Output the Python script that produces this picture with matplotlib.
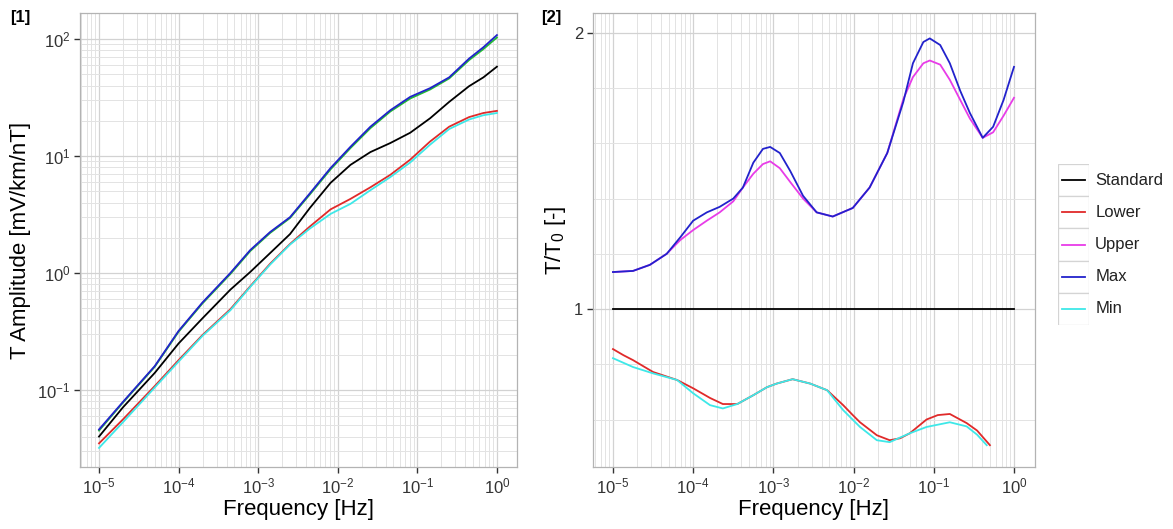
import numpy as np
import matplotlib.pyplot as plt
from matplotlib.ticker import LogLocator, FixedLocator, NullFormatter, LogFormatterSciNotation
from matplotlib.patches import Rectangle

plt.rcParams['font.family'] = ['Liberation Sans', 'DejaVu Sans']
plt.rcParams['mathtext.default'] = 'regular'
plt.rcParams['axes.unicode_minus'] = False

# ---- panel [1]: transfer amplitude (log10 of frequency in Hz) ----
logf_left = [-5, -4.7, -4.3, -4.0, -3.7, -3.35, -3.1, -2.85, -2.6, -2.35, -2.09, -1.84,
             -1.59, -1.34, -1.09, -0.84, -0.6, -0.35, -0.17, 0]
amp_standard = [0.040, 0.071, 0.14, 0.25, 0.41, 0.72, 1.02, 1.48, 2.15, 3.6, 5.9, 8.4,
                10.8, 12.9, 15.8, 21, 29, 39.5, 47, 58]
amp_lower = [0.035, 0.056, 0.108, 0.18, 0.295, 0.49, 0.77, 1.2, 1.77, 2.5, 3.5, 4.3,
             5.4, 6.9, 9.3, 13.3, 17.8, 21.5, 23.3, 24.3]
amp_upper = [0.045, 0.078, 0.158, 0.315, 0.55, 0.98, 1.54, 2.2, 2.95, 4.7, 7.7, 11.7,
             17.3, 24, 31, 37, 46, 66, 82, 103]
amp_max = [0.046, 0.079, 0.16, 0.32, 0.56, 1.0, 1.57, 2.24, 3.0, 4.8, 7.9, 12,
           17.8, 24.6, 32, 38, 47, 68, 85, 108]
amp_min = [0.032, 0.053, 0.105, 0.175, 0.29, 0.48, 0.76, 1.18, 1.75, 2.4, 3.2, 3.9,
           5.1, 6.6, 8.8, 12.5, 17, 20.5, 22.3, 23.3]

# ---- panel [2]: ratio to standard ----
logf_std = [-5, 0]
ratio_std = [1.0, 1.0]

logf_up = [-5.0, -4.75, -4.54, -4.33, -4.16, -4.0, -3.83, -3.67, -3.50, -3.38, -3.25, -3.13, -3.04,
           -2.92, -2.79, -2.63, -2.46, -2.26, -2.01, -1.80, -1.58, -1.38, -1.26, -1.13, -1.05,
           -0.92, -0.80, -0.67, -0.55, -0.39, -0.26, -0.13, 0.0]
ratio_max = [1.134, 1.138, 1.16, 1.20, 1.26, 1.32, 1.35, 1.37, 1.40, 1.44, 1.53, 1.58, 1.587,
             1.565, 1.50, 1.41, 1.35, 1.335, 1.366, 1.44, 1.565, 1.75, 1.89, 1.967, 1.98,
             1.956, 1.89, 1.79, 1.71, 1.62, 1.66, 1.757, 1.877]
ratio_upper = [1.134, 1.138, 1.16, 1.20, 1.25, 1.286, 1.32, 1.35, 1.39, 1.44, 1.49, 1.525, 1.535,
               1.51, 1.46, 1.40, 1.35, 1.335, 1.366, 1.44, 1.565, 1.76, 1.84, 1.89, 1.90,
               1.885, 1.83, 1.757, 1.69, 1.62, 1.64, 1.70, 1.765]

logf_lo = [-5.0, -4.87, -4.75, -4.5, -4.2, -4.0, -3.79, -3.63, -3.45, -3.25, -3.08, -2.96, -2.76,
           -2.54, -2.33, -2.13, -2.01, -1.92, -1.71, -1.55, -1.42, -1.30, -1.09, -0.95, -0.80,
           -0.59, -0.46, -0.30]
ratio_lower = [0.855, 0.833, 0.815, 0.772, 0.743, 0.713, 0.678, 0.656, 0.656, 0.688, 0.717, 0.73, 0.746,
               0.73, 0.706, 0.652, 0.616, 0.59, 0.543, 0.525, 0.532, 0.55, 0.60, 0.616, 0.62,
               0.587, 0.56, 0.507]
logf_mn = [-5.0, -4.75, -4.5, -4.2, -4.0, -3.79, -3.63, -3.45, -3.25, -3.08, -2.96, -2.76,
           -2.54, -2.33, -2.13, -1.92, -1.71, -1.55, -1.30, -1.09, -0.80, -0.59, -0.46, -0.34]
ratio_min = [0.822, 0.79, 0.767, 0.743, 0.695, 0.652, 0.64, 0.656, 0.688, 0.717, 0.73, 0.746,
             0.73, 0.706, 0.634, 0.573, 0.525, 0.518, 0.55, 0.573, 0.59, 0.575, 0.545, 0.507]

names = ['Standard', 'Lower', 'Upper', 'Max', 'Min']
colors = ['black', '#e02a2a', '#e83ce8', '#2222cc', '#3ee8e8']
green = '#22bb33'


def hz(logf):
    return 10.0 ** np.asarray(logf, dtype=float)


W, H = 1173, 529
fig = plt.figure(figsize=(W / 100, H / 100), dpi=100)


def style(ax):
    ax.set_facecolor('white')
    for s in ax.spines.values():
        s.set_color('#b3b3b3')
        s.set_linewidth(0.9)
    ax.grid(which='major', color='#d2d2d2', linewidth=0.9)
    ax.grid(which='minor', color='#e3e3e3', linewidth=0.7)
    ax.set_axisbelow(True)
    ax.tick_params(which='major', direction='out', length=4, width=1, color='#333333',
                   labelsize=12, labelcolor='#333333', pad=3)
    ax.tick_params(which='minor', length=0)


ax1 = fig.add_axes([80 / W, 1 - 467 / H, 437 / W, 454 / H])
f1 = hz(logf_left)
ax1.plot(f1, amp_standard, color=colors[0], lw=1.3)
ax1.plot(f1, amp_lower, color=colors[1], lw=1.3)
ax1.plot(f1, amp_upper, color=green, lw=1.3)
ax1.plot(f1, amp_max, color=colors[3], lw=1.3)
ax1.plot(f1, amp_min, color=colors[4], lw=1.3)
ax1.set_xscale('log')
ax1.set_yscale('log')
ax1.set_xlim(10 ** -5.239, 10 ** 0.252)
ax1.set_ylim(10 ** -1.658, 10 ** 2.222)
for axis in (ax1.xaxis, ax1.yaxis):
    axis.set_major_locator(LogLocator(base=10, numticks=20))
    axis.set_minor_locator(LogLocator(base=10, subs=np.arange(2, 10), numticks=20))
    axis.set_major_formatter(LogFormatterSciNotation())
    axis.set_minor_formatter(NullFormatter())
style(ax1)
ax1.set_xlabel('Frequency [Hz]', fontsize=16, labelpad=2)
ax1.set_ylabel('T Amplitude [mV/km/nT]', fontsize=16, labelpad=4)

ax2 = fig.add_axes([593 / W, 1 - 467 / H, 442 / W, 454 / H])
ax2.plot(hz(logf_std), ratio_std, color=colors[0], lw=1.3)
ax2.plot(hz(logf_lo), ratio_lower, color=colors[1], lw=1.3)
ax2.plot(hz(logf_up), ratio_upper, color=colors[2], lw=1.3)
ax2.plot(hz(logf_up), ratio_max, color=colors[3], lw=1.3)
ax2.plot(hz(logf_mn), ratio_min, color=colors[4], lw=1.3)
ax2.set_xscale('log')
ax2.set_xlim(10 ** -5.249, 10 ** 0.262)
ax2.set_ylim(0.428, 2.072)
ax2.xaxis.set_major_locator(LogLocator(base=10, numticks=20))
ax2.xaxis.set_minor_locator(LogLocator(base=10, subs=np.arange(2, 10), numticks=20))
ax2.xaxis.set_major_formatter(LogFormatterSciNotation())
ax2.xaxis.set_minor_formatter(NullFormatter())
ax2.yaxis.set_major_locator(FixedLocator([1, 2]))
ax2.yaxis.set_minor_locator(FixedLocator([0.6, 0.8, 1.2, 1.4, 1.6, 1.8]))
ax2.set_yticklabels(['1', '2'])
style(ax2)
ax2.set_xlabel('Frequency [Hz]', fontsize=16, labelpad=2)
ax2.set_ylabel('T/T$_0$ [-]', fontsize=16, labelpad=4)

fig.text(10 / W, 1 - 22 / H, '[1]', fontsize=12, fontweight='bold')
fig.text(541 / W, 1 - 22 / H, '[2]', fontsize=12, fontweight='bold')

# legend with ggplot-like key boxes
axl = fig.add_axes([1058 / W, 1 - 325 / H, 31 / W, 161 / H])
axl.set_xlim(0, 1)
axl.set_ylim(0, 5)
axl.axis('off')
for i, (nm, c) in enumerate(zip(names, colors)):
    y0 = 4 - i
    axl.add_patch(Rectangle((0, y0), 1, 1, facecolor='white', edgecolor='#d4d4d4', lw=0.9))
    axl.plot([0.12, 0.88], [y0 + 0.5, y0 + 0.5], color=c, lw=1.3)
    axl.text(1.2, y0 + 0.5, nm, fontsize=12, color='#222222', va='center', ha='left', clip_on=False)

fig.savefig('out.png', dpi=100, facecolor='white')
